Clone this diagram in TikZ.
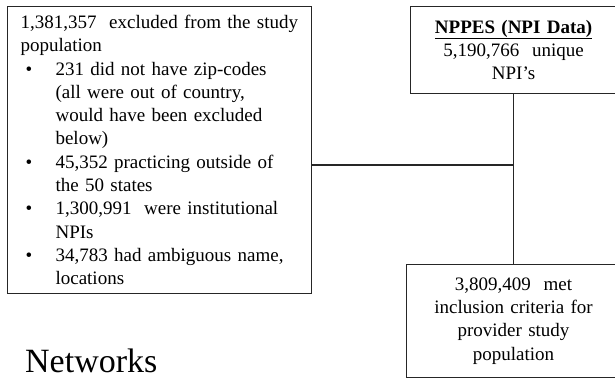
\documentclass[tikz,border=0pt]{standalone}
\usepackage{fontspec}
\setmainfont{Liberation Serif}
\usetikzlibrary{positioning}

\newcommand{\bul}{\hspace*{5pt}\makebox[30pt][l]{\textbullet}}
\newcommand{\ind}{\hspace*{35pt}}

\tikzset{
  box/.style={draw=black!85, line width=1.1pt, inner sep=0pt, anchor=north west,
    font=\fontsize{19}{23.3}\selectfont},
  link/.style={draw=black!85, line width=1.1pt},
}

\begin{document}
\begin{tikzpicture}[x=1pt,y=-1pt]
\useasboundingbox (0,0) rectangle (615,379);

% Excluded from the study
\node[box, inner xsep=13pt, minimum width=304, minimum height=287,
  text width=278, align=left] (excl) at (7,6)
{1,381,357\ \ excluded from\ the study\\
population\\
\bul 231\ did not have zip-codes\\
\ind (all\ were\ out of country,\\
\ind would have been excluded\\
\ind below)\\
\bul 45,352\ practicing outside of\\
\ind the 50 states\\
\bul 1,300,991\ \ were institutional\\
\ind NPIs\\
\bul 34,783\ had ambiguous name,\\
\ind locations};

% Source data
\node[box, minimum width=206, minimum height=87, text width=200, align=center]
  (nppes) at (410,6)
{\underline{\textbf{NPPES\ (NPI Data)}}\\
5,190,766\ \ unique\\
NPI's};

% Study population
\node[box, minimum width=214, minimum height=113, text width=208, align=center]
  (incl) at (406,264)
{3,809,409\ \ met\\
inclusion criteria for\\
provider study\\
population};

% Title
\node[anchor=base west, inner sep=0pt, font=\fontsize{34}{40}\selectfont]
  (title) at (25,372) {Networks};

% Links
\coordinate (junc) at (513,165);
\draw[link] (nppes) -- (incl);
\draw[link] (excl.east |- junc) -- (junc);

\end{tikzpicture}
\end{document}
